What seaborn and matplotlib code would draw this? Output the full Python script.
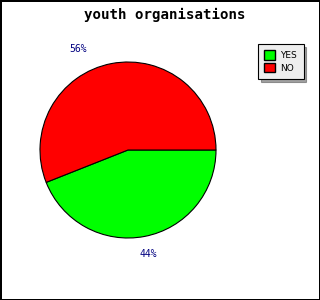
import matplotlib
matplotlib.use("Agg")
import matplotlib.pyplot as plt
import seaborn as sns
from matplotlib.patches import Patch

sns.set_style("white")
plt.rcParams['font.family'] = ['DejaVu Sans']
plt.rcParams['text.color'] = 'black'

labels = ["YES", "NO"]
values = [44, 56]
colors = ["#00ff00", "#ff0000"]
title = "youth organisations"

fig = plt.figure(figsize=(3.2, 3.0), dpi=100)
fig.patch.set_facecolor("white")
fig.patch.set_edgecolor("black")
fig.patch.set_linewidth(2)

ax = fig.add_axes([40/320, 62/300, 176/320, 176/300])
wedges, texts, autotexts = ax.pie(values, colors=colors, startangle=0, counterclock=False,
                                  autopct="%d%%", pctdistance=1.18,
                                  wedgeprops=dict(edgecolor="black", linewidth=0.8),
                                  textprops=dict(color="#000080", fontsize=7, family="DejaVu Sans Mono"))
ax.set_xlim(-1, 1)
ax.set_ylim(-1, 1)
ax.set_aspect("auto")
# adjust label placement to match reference
autotexts[1].set_position((-0.57, 1.15))
autotexts[0].set_position((0.23, -1.18))

fig.text(0.515, 1 - 15/300, title, ha="center", va="center", fontsize=10.2, fontweight="bold",
         family="DejaVu Sans Mono", color="black")

handles = [Patch(facecolor=c, edgecolor="black", label=l) for c, l in zip(colors, labels)]
leg = fig.legend(handles=handles, loc="upper left", bbox_to_anchor=(258/320, 1 - 44/300),
                 fontsize=6.5, frameon=True, fancybox=False, shadow=True,
                 handlelength=1.2, handleheight=1.2, handletextpad=0.6, borderpad=0.7,
                 labelspacing=0.35, borderaxespad=0)
leg.get_frame().set_facecolor("#eeeeee")
leg.get_frame().set_edgecolor("black")
leg.get_frame().set_linewidth(0.8)
leg.get_frame().set_alpha(1)
for t in leg.get_texts():
    t.set_color("black")

fig.savefig("out.png", dpi=100, facecolor="white", edgecolor="black")
